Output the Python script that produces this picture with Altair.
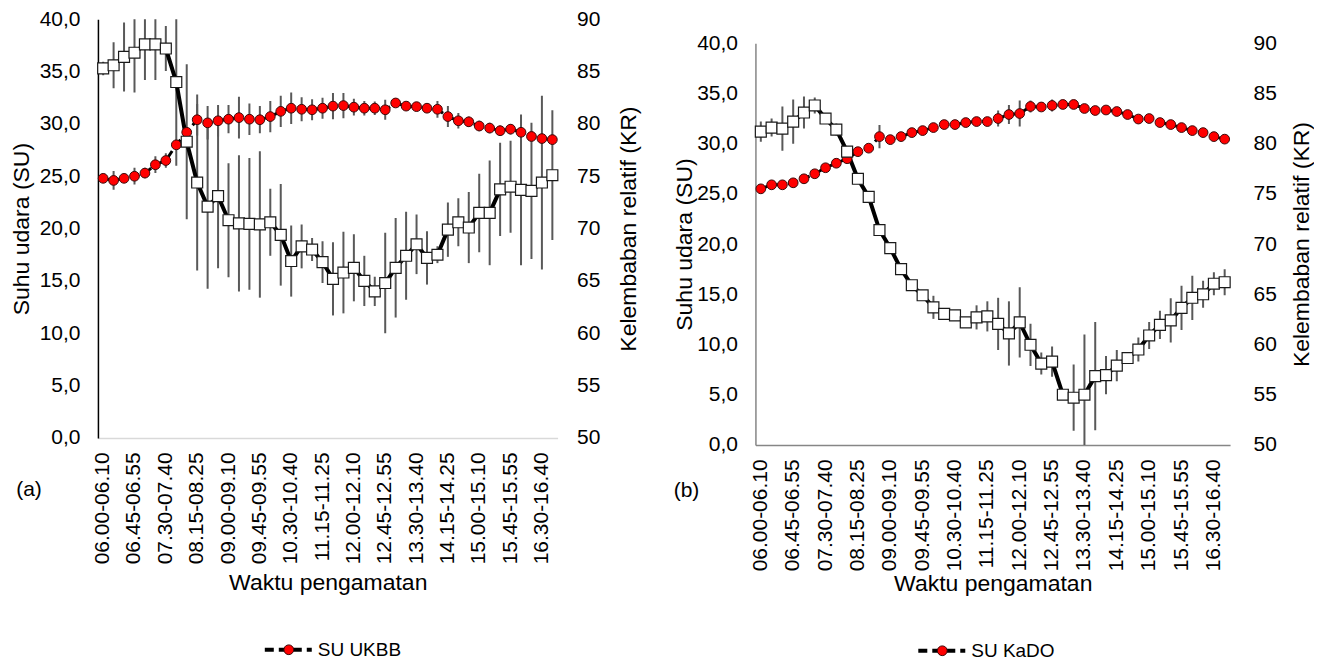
import altair as alt
import pandas as pd

FONT = "Liberation Sans"

TIMES = [
    "06.00-06.10", "06.15-06.25", "06.30-06.40", "06.45-06.55", "07.00-07.10", "07.15-07.25",
    "07.30-07.40", "07.45-07.55", "08.00-08.10", "08.15-08.25", "08.30-08.40", "08.45-08.55",
    "09.00-09.10", "09.15-09.25", "09.30-09.40", "09.45-09.55", "10.00-10.10", "10.15-10.25",
    "10.30-10.40", "10.45-10.55", "11.00-11.10", "11.15-11.25", "11.30-11.40", "11.45-11.55",
    "12.00-12.10", "12.15-12.25", "12.30-12.40", "12.45-12.55", "13.00-13.10", "13.15-13.25",
    "13.30-13.40", "13.45-13.55", "14.00-14.10", "14.15-14.25", "14.30-14.40", "14.45-14.55",
    "15.00-15.10", "15.15-15.25", "15.30-15.40", "15.45-15.55", "16.00-16.10", "16.15-16.25",
    "16.30-16.40", "16.45-16.55",
]
SHOWN_TIMES = [
    "06.00-06.10", "06.45-06.55", "07.30-07.40", "08.15-08.25", "09.00-09.10", "09.45-09.55",
    "10.30-10.40", "11.15-11.25", "12.00-12.10", "12.45-12.55", "13.30-13.40", "14.15-14.25",
    "15.00-15.10", "15.45-15.55", "16.30-16.40",
]
SU_TICKS = [0, 5, 10, 15, 20, 25, 30, 35, 40]
KR_TICKS = [50, 55, 60, 65, 70, 75, 80, 85, 90]

# Panel (a) - UKBB
SU_A = [35.3, 35.6, 36.4, 36.8, 37.6, 37.6, 37.2, 34.0, 28.3, 24.4, 22.1, 23.1, 20.8, 20.5, 20.45,
        20.4, 20.6, 19.4, 16.9, 18.3, 18.0, 16.8, 15.2, 15.8, 16.25, 15.0, 14.0, 14.8, 16.25, 17.4,
        18.5, 17.2, 17.5, 19.9, 20.6, 20.1, 21.5, 21.5, 23.75, 24.0, 23.7, 23.6, 24.4, 25.1]
SU_A_ERR = [0.65, 2.2, 3.3, 3.8, 3.4, 3.4, 2.15, 8.0, 7.4, 8.4, 7.85, 6.9, 5.45, 6.5, 6.3,
            7.0, 3.2, 4.85, 3.4, 2.1, 1.1, 2.0, 3.5, 3.9, 3.2, 2.4, 1.4, 4.8, 4.75, 4.2,
            2.85, 2.55, 0.8, 2.6, 2.3, 3.4, 3.75, 5.0, 4.45, 4.4, 7.2, 6.5, 8.3, 6.2]
KR_A = [74.8, 74.6, 74.8, 75.0, 75.3, 76.1, 76.5, 78.0, 79.2, 80.4, 80.1, 80.3, 80.45, 80.6, 80.45,
        80.4, 80.7, 81.2, 81.5, 81.4, 81.35, 81.5, 81.7, 81.75, 81.6, 81.5, 81.5, 81.35, 82.0, 81.7,
        81.65, 81.5, 81.4, 80.7, 80.3, 80.2, 79.8, 79.6, 79.35, 79.5, 79.2, 78.8, 78.6, 78.5]
KR_A_ERR = [0.4, 0.9, 0.4, 0.8, 0.5, 0.8, 0.7, 0.5, 0.5, 1.5, 1.6, 1.5, 1.35, 2.0, 1.5,
            1.3, 1.5, 1.5, 1.5, 1.15, 1.0, 1.0, 1.25, 1.2, 0.8, 0.7, 0.65, 0.95, 0.3, 0.3,
            0.3, 0.3, 0.8, 1.0, 0.75, 0.5, 0.5, 0.5, 0.5, 0.5, 0.5, 0.5, 0.5, 0.5]

# Panel (b) - KaDO
SU_B = [31.2, 31.6, 31.5, 32.2, 33.1, 33.8, 32.5, 31.4, 29.2, 26.5, 24.7, 21.4, 19.6, 17.5, 15.9,
        14.9, 13.7, 13.05, 12.9, 12.2, 12.7, 12.8, 12.05, 11.1, 12.2, 9.97, 8.1, 8.3, 5.0, 4.7,
        5.0, 6.85, 6.95, 7.9, 8.65, 9.5, 10.9, 11.95, 12.4, 13.65, 14.65, 15.0, 16.05, 16.2]
SU_B_ERR = [1.0, 0.9, 2.2, 2.2, 1.6, 0.8, 0.5, 0.6, 0.3, 0.3, 0.3, 0.6, 0.3, 0.3, 0.3,
            0.3, 1.15, 0.3, 0.3, 0.3, 1.2, 1.5, 2.6, 3.2, 3.5, 2.1, 1.1, 1.5, 0.3, 3.3,
            6.0, 5.4, 1.9, 1.55, 0.5, 1.2, 1.35, 1.4, 2.2, 2.2, 2.2, 1.35, 1.15, 1.3]
KR_B = [75.5, 75.9, 75.9, 76.1, 76.5, 77.0, 77.6, 78.05, 78.5, 79.2, 79.55, 80.7, 80.4, 80.7, 81.1,
        81.3, 81.6, 81.9, 81.9, 82.1, 82.2, 82.2, 82.5, 82.9, 83.0, 83.7, 83.65, 83.8, 83.9, 83.9,
        83.5, 83.3, 83.35, 83.2, 82.9, 82.45, 82.5, 82.1, 81.9, 81.6, 81.3, 81.1, 80.7, 80.45]
KR_B_ERR = [0.4, 0.3, 0.3, 0.3, 0.3, 0.3, 0.3, 0.3, 0.3, 0.3, 0.3, 1.15, 0.3, 0.3, 0.3,
            0.3, 0.3, 0.3, 0.3, 0.3, 0.3, 0.3, 0.8, 0.95, 1.3, 0.6, 0.3, 0.6, 0.3, 0.3,
            0.3, 0.3, 0.3, 0.3, 0.3, 0.3, 0.3, 0.3, 0.3, 0.3, 0.3, 0.3, 0.3, 0.3]

TICK_FS = 21
XTITLE_FS = 23
YTITLE_FS = 23
LEG_FS = 19
TAG_FS = 21
TEXT_COLOR = "#000000"
BAR_COLOR = "#595959"


def make_panel(su, su_err, kr, kr_err, w, h, name, tag, axis_color, left_domain_color,
               left_title_pad, right_label_pad, right_title_pad, x_title_pad,
               leg_y, leg_x0, tag_y):
    df = pd.DataFrame({
        "t": TIMES,
        "su": su,
        "su_lo": [v - e for v, e in zip(su, su_err)],
        "su_hi": [v + e for v, e in zip(su, su_err)],
        "kr": kr,
        "kr_lo": [v - e for v, e in zip(kr, kr_err)],
        "kr_hi": [v + e for v, e in zip(kr, kr_err)],
    })
    xenc = alt.X(
        "t:N", sort=TIMES,
        scale=alt.Scale(type="band", paddingInner=0, paddingOuter=0),
        axis=alt.Axis(values=SHOWN_TIMES, labelAngle=270, ticks=False, labelPadding=14,
                      domainColor=axis_color, domainWidth=1.5, grid=False,
                      labelFontSize=TICK_FS, title="Waktu pengamatan", titleFontSize=XTITLE_FS,
                      titlePadding=x_title_pad),
    )
    su_scale = alt.Scale(domain=[0, 40], nice=False, zero=False)
    kr_scale = alt.Scale(domain=[50, 90], nice=False, zero=False)
    base = alt.Chart(df)

    su_bars = base.mark_rule(color=BAR_COLOR, strokeWidth=2, clip=True).encode(
        x=xenc, y=alt.Y("su_lo:Q", scale=su_scale, axis=None), y2="su_hi:Q")
    kr_bars = base.mark_rule(color=BAR_COLOR, strokeWidth=2, clip=True).encode(
        x=xenc, y=alt.Y("kr_lo:Q", scale=kr_scale, axis=None), y2="kr_hi:Q")
    kr_line = base.mark_line(color="#000000", strokeWidth=3, strokeDash=[9, 5]).encode(
        x=xenc, y=alt.Y("kr:Q", scale=kr_scale, axis=None))
    su_line = base.mark_line(color="#000000", strokeWidth=4).encode(
        x=xenc, y=alt.Y("su:Q", scale=su_scale, axis=None))
    kr_pts = base.mark_point(shape="circle", filled=True, fill="#ff0000", stroke="#3a0a0a",
                             strokeWidth=1, size=95, opacity=1).encode(
        x=xenc,
        y=alt.Y("kr:Q", scale=kr_scale,
                axis=alt.Axis(orient="right", values=KR_TICKS, format="d", ticks=False,
                              domain=False, grid=False, labelPadding=right_label_pad,
                              labelFontSize=TICK_FS,
                              title="Kelembaban relatif (KR)", titleFontSize=YTITLE_FS,
                              titleAngle=270, titleBaseline="top",
                              titlePadding=right_title_pad)))
    su_pts = base.mark_square(filled=True, fill="#ffffff", stroke="#1a1a1a", strokeWidth=1.2,
                              size=120, opacity=1).encode(
        x=xenc,
        y=alt.Y("su:Q", scale=su_scale,
                axis=alt.Axis(orient="left", values=SU_TICKS, ticks=False,
                              labelExpr="replace(format(datum.value, '.1f'), '.', ',')",
                              domainColor=left_domain_color, domainWidth=1.5, grid=False,
                              labelPadding=18, labelFontSize=TICK_FS,
                              title="Suhu udara (SU)", titleFontSize=YTITLE_FS,
                              titlePadding=left_title_pad)))

    one = alt.Chart(pd.DataFrame({"k": [0]}))
    leg_line = one.mark_rule(color="#000000", strokeWidth=4, strokeDash=[9, 5]).encode(
        x=alt.value(leg_x0), x2=alt.value(leg_x0 + 47), y=alt.value(leg_y))
    leg_dot = one.mark_point(shape="circle", filled=True, fill="#ff0000", stroke="#3a0a0a",
                             strokeWidth=1, size=95, opacity=1).encode(
        x=alt.value(leg_x0 + 24), y=alt.value(leg_y))
    leg_txt = one.mark_text(align="left", baseline="middle", font=FONT, fontSize=LEG_FS,
                            color=TEXT_COLOR).encode(
        x=alt.value(leg_x0 + 53), y=alt.value(leg_y), text=alt.value(name))
    tag_txt = one.mark_text(align="center", baseline="middle", font=FONT, fontSize=TAG_FS,
                            color=TEXT_COLOR).encode(
        x=alt.value(-69), y=alt.value(tag_y), text=alt.value(tag))

    return alt.layer(su_bars, kr_bars, kr_line, su_line, kr_pts, su_pts,
                     leg_line, leg_dot, leg_txt, tag_txt).resolve_scale(
        y="independent").properties(width=w, height=h)


panel_a = make_panel(SU_A, SU_A_ERR, KR_A, KR_A_ERR, 460, 419, "SU UKBB", "(a)",
                     "#d9d9d9", "#000000", 6, 19, 18, 8, 631, 167, 471)
panel_b = make_panel(SU_B, SU_B_ERR, KR_B, KR_B_ERR, 475, 402, "SU KaDO", "(b)",
                     "#868686", "#868686", 0, 23, 14, 2, 608, 163, 448)

spacer = alt.Chart(pd.DataFrame({"k": [0]})).mark_point(opacity=0).encode(
    x=alt.value(0), y=alt.value(0)).properties(width=1, height=13)

chart = alt.hconcat(
    panel_a,
    alt.vconcat(spacer, panel_b, spacing=0),
    spacing=32,
).properties(
    padding={"left": 2, "top": 0, "right": 0, "bottom": 0}
).configure_view(strokeWidth=0).configure_axis(
    labelFont=FONT, titleFont=FONT, labelColor=TEXT_COLOR, titleColor=TEXT_COLOR,
    titleFontWeight="normal",
)

chart.save("out.html", embed_options={"renderer": "svg", "actions": False})
